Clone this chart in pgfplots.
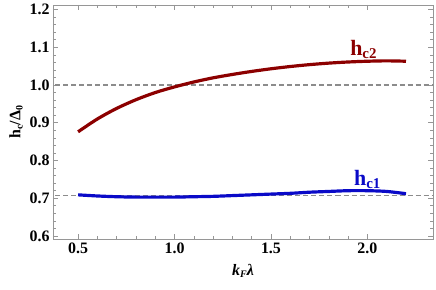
\documentclass[border=0pt]{standalone}
\usepackage{fontspec}
\setmainfont{Liberation Serif}
\usepackage{pgfplots}
\pgfplotsset{compat=1.18}
\definecolor{hctwo}{RGB}{140,0,0}
\definecolor{hcone}{RGB}{10,10,200}
\definecolor{framegray}{RGB}{150,150,150}
\definecolor{dashgray}{RGB}{140,140,140}
\begin{document}
\begin{tikzpicture}
\useasboundingbox (-53bp,-51bp) rectangle (383bp,239bp);
\begin{axis}[
  at={(0,0)}, anchor=south west,
  scale only axis,
  width=380bp, height=234bp,
  xmin=0.37, xmax=2.34,
  ymin=0.592, ymax=1.212,
  xtick={0.5,1.0,1.5,2.0},
  ytick={0.6,0.7,0.8,0.9,1.0,1.1,1.2},
  minor x tick num=4,
  minor y tick num=4,
  xticklabel style={/pgf/number format/.cd,fixed,fixed zerofill,precision=1},
  yticklabel style={/pgf/number format/.cd,fixed,fixed zerofill,precision=1},
  /pgf/number format/assume math mode=true,
  ticklabel style={font=\fontsize{16}{18}\selectfont\bfseries},
  axis line style={framegray, line width=0.8pt},
  every tick/.style={framegray, line width=0.6pt},
  major tick length=5bp,
  minor tick length=3bp,
  tick align=inside,
  xlabel={\textbf{\textit{k}\raisebox{-0.3ex}{\fontsize{10}{12}\selectfont\textit{F}}\textit{λ}}},
  ylabel={\textbf{h\raisebox{-0.3ex}{\fontsize{10}{12}\selectfont c}/Δ\raisebox{-0.3ex}{\fontsize{10}{12}\selectfont 0}}},
  label style={font=\fontsize{16}{18}\selectfont},
  xlabel style={yshift=-4bp},
  clip=true,
]
\addplot[dashgray, line width=1.2pt, dash pattern=on 5bp off 3bp] coordinates {(0.3,1.0) (2.4,1.0)};
\addplot[dashgray, line width=1.2pt, dash pattern=on 5bp off 3bp] coordinates {(0.3,0.7071) (2.4,0.7071)};
\addplot[hctwo, line width=3.2pt, smooth] coordinates {
(0.5,0.876) (0.6,0.910) (0.7,0.938) (0.8,0.961) (0.9,0.980) (1.0,0.995)
(1.1,1.008) (1.2,1.019) (1.3,1.028) (1.4,1.036) (1.5,1.043) (1.6,1.049)
(1.7,1.054) (1.8,1.058) (1.9,1.061) (2.0,1.063) (2.1,1.064) (2.2,1.063)};
\addplot[hcone, line width=3.2pt, smooth] coordinates {
(0.5,0.709) (0.6,0.706) (0.7,0.704) (0.8,0.703) (0.9,0.703) (1.0,0.703)
(1.1,0.704) (1.2,0.705) (1.3,0.707) (1.4,0.709) (1.5,0.711) (1.6,0.713)
(1.7,0.716) (1.8,0.718) (1.9,0.720) (2.0,0.720) (2.1,0.718) (2.2,0.712)};
\node[anchor=base west, text=hctwo, font=\fontsize{22}{24}\selectfont\bfseries, inner sep=0pt] at (axis cs:1.91,1.078) {h\raisebox{-0.3ex}{\fontsize{15}{16}\selectfont c2}};
\node[anchor=base west, text=hcone, font=\fontsize{22}{24}\selectfont\bfseries, inner sep=0pt] at (axis cs:1.93,0.733) {h\raisebox{-0.3ex}{\fontsize{15}{16}\selectfont c1}};
\end{axis}
\end{tikzpicture}
\end{document}
